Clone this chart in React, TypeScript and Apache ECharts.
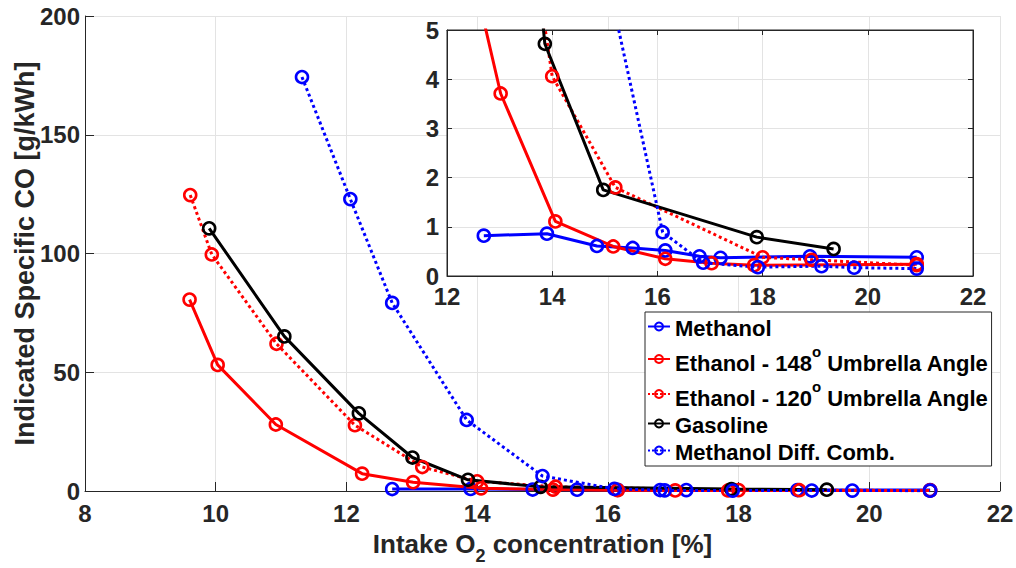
import React, { useEffect, useRef } from 'react';
import * as echarts from 'echarts';

const FONT = "'Liberation Sans', Arial, Helvetica, sans-serif";

const seriesNames = [
  'Methanol',
  'Ethanol - 148o Umbrella Angle',
  'Ethanol - 120o Umbrella Angle',
  'Gasoline',
  'Methanol Diff. Comb.',
];

const methanolX = [12.7, 13.9, 14.85, 15.53, 16.15, 16.8, 17.2, 18.9, 20.93];
const methanolY = [0.82, 0.86, 0.61, 0.57, 0.52, 0.4, 0.37, 0.4, 0.38];

const eth148X = [9.6, 10.03, 10.92, 12.24, 13.02, 14.06, 15.16, 16.15, 17.03, 17.84, 20.93];
const eth148Y = [80.6, 53.1, 28.0, 7.3, 3.71, 1.11, 0.6, 0.35, 0.26, 0.22, 0.24];

const eth120X = [9.61, 9.94, 10.93, 12.13, 13.16, 14.0, 15.2, 18.0, 18.93, 20.93];
const eth120Y = [124.6, 99.6, 62.0, 27.7, 10.1, 4.06, 1.8, 0.38, 0.33, 0.22];

const gasolineX = [9.9, 11.05, 12.19, 13.01, 13.86, 14.97, 17.89, 19.35];
const gasolineY = [110.6, 65.1, 32.7, 14.1, 4.72, 1.75, 0.79, 0.55];

const diffX = [11.32, 12.06, 12.7, 13.84, 15.0, 16.1, 16.87, 17.91, 19.12, 19.74, 20.93];
const diffY = [174.3, 122.9, 79.2, 29.9, 6.3, 0.89, 0.27, 0.18, 0.2, 0.17, 0.15];

const seriesX = [methanolX, eth148X, eth120X, gasolineX, diffX];
const seriesY = [methanolY, eth148Y, eth120Y, gasolineY, diffY];
const seriesColors = ['#0000ff', '#ff0000', '#ff0000', '#000000', '#0000ff'];
const seriesDotted = [false, false, true, false, true];

const legendLabels: Record<string, string> = {
  'Methanol': '{t|Methanol}',
  'Ethanol - 148o Umbrella Angle': '{t|Ethanol - 148}{sup|o}{t| Umbrella Angle}',
  'Ethanol - 120o Umbrella Angle': '{t|Ethanol - 120}{sup|o}{t| Umbrella Angle}',
  'Gasoline': '{t|Gasoline}',
  'Methanol Diff. Comb.': '{t|Methanol Diff. Comb.}',
};

const AXIS_COLOR = '#262626';
const GRID_COLOR = '#e3e3e3';

function makeSeries(i: number, inset: boolean) {
  const c = seriesColors[i];
  return {
    name: seriesNames[i],
    type: 'line',
    xAxisIndex: inset ? 1 : 0,
    yAxisIndex: inset ? 1 : 0,
    data: seriesX[i].map((x, k) => [x, seriesY[i][k]]),
    symbol: 'circle',
    symbolSize: 12,
    clip: true,
    silent: true,
    z: inset ? 6 : 2,
    lineStyle: { color: c, width: 3, type: seriesDotted[i] ? 'dotted' : 'solid' },
    itemStyle: { color: 'rgba(255,255,255,0)', borderColor: c, borderWidth: 2.6 },
    emphasis: { disabled: true },
  };
}

export default function App() {
  const ref = useRef<HTMLDivElement>(null);
  useEffect(() => {
    const chart = echarts.init(ref.current!, null, { renderer: 'svg' });
    const tickLabel = { color: AXIS_COLOR, fontSize: 24, fontWeight: 'bold', fontFamily: FONT };
    const option: any = {
      animation: false,
      backgroundColor: '#ffffff',
      grid: [
        { left: 85, right: 16, top: 16, bottom: 77, show: false, containLabel: false, outerBoundsMode: 'none' },
        {
          left: 447, right: 43, top: 30, bottom: 292, show: true, containLabel: false, outerBoundsMode: 'none',
          backgroundColor: '#ffffff', borderColor: AXIS_COLOR, borderWidth: 1, z: 3,
        },
      ],
      xAxis: [
        {
          type: 'value', gridIndex: 0, min: 8, max: 22, interval: 2,
          axisLine: { show: true, onZero: false, lineStyle: { color: AXIS_COLOR, width: 1 } },
          axisTick: { show: true, inside: true, length: 9, lineStyle: { color: AXIS_COLOR } },
          axisLabel: { ...tickLabel, margin: 10 },
          splitLine: { show: true, lineStyle: { color: GRID_COLOR, width: 1 } },
          name: '{t|Intake O}{sub|2}{t| concentration [%]}',
          nameLocation: 'middle',
          nameGap: 40,
          nameTextStyle: {
            rich: {
              t: { fontSize: 26, fontWeight: 'bold', fontFamily: FONT, color: AXIS_COLOR, lineHeight: 26, verticalAlign: 'top' },
              sub: { fontSize: 18, fontWeight: 'bold', fontFamily: FONT, color: AXIS_COLOR, lineHeight: 34, verticalAlign: 'bottom' },
            },
          },
        },
        {
          type: 'value', gridIndex: 1, min: 12, max: 22, interval: 2, z: 4,
          axisLine: { show: true, onZero: false, lineStyle: { color: AXIS_COLOR, width: 1 } },
          axisTick: { show: true, inside: true, length: 5, lineStyle: { color: AXIS_COLOR } },
          axisLabel: { ...tickLabel, margin: 12, lineHeight: 17 },
          splitLine: { show: true, lineStyle: { color: GRID_COLOR, width: 1 } },
        },
        {
          type: 'value', gridIndex: 1, min: 12, max: 22, interval: 2, z: 4, position: 'top',
          axisLine: { show: true, onZero: false, lineStyle: { color: AXIS_COLOR, width: 1 } },
          axisTick: { show: true, inside: true, length: 5, lineStyle: { color: AXIS_COLOR } },
          axisLabel: { show: false },
          splitLine: { show: false },
        },
      ],
      yAxis: [
        {
          type: 'value', gridIndex: 0, min: 0, max: 200, interval: 50,
          axisLine: { show: true, onZero: false, lineStyle: { color: AXIS_COLOR, width: 1 } },
          axisTick: { show: true, inside: true, length: 9, lineStyle: { color: AXIS_COLOR } },
          axisLabel: { ...tickLabel, margin: 5 },
          splitLine: { show: true, lineStyle: { color: GRID_COLOR, width: 1 } },
          name: 'Indicated Specific CO [g/kWh]',
          nameLocation: 'middle',
          nameGap: 47,
          nameMoveOverlap: false,
          nameTextStyle: { fontSize: 27, fontWeight: 'bold', fontFamily: FONT, color: AXIS_COLOR },
        },
        {
          type: 'value', gridIndex: 1, min: 0, max: 5, interval: 1, z: 4,
          axisLine: { show: true, onZero: false, lineStyle: { color: AXIS_COLOR, width: 1 } },
          axisTick: { show: true, inside: true, length: 5, lineStyle: { color: AXIS_COLOR } },
          axisLabel: { ...tickLabel, margin: 8, lineHeight: 17 },
          splitLine: { show: true, lineStyle: { color: GRID_COLOR, width: 1 } },
        },
        {
          type: 'value', gridIndex: 1, min: 0, max: 5, interval: 1, z: 4, position: 'right',
          axisLine: { show: true, onZero: false, lineStyle: { color: AXIS_COLOR, width: 1 } },
          axisTick: { show: true, inside: true, length: 5, lineStyle: { color: AXIS_COLOR } },
          axisLabel: { show: false },
          splitLine: { show: false },
        },
      ],
      legend: {
        data: seriesNames,
        orient: 'vertical',
        left: 645,
        top: 312,
        z: 10,
        padding: [5, 3, 3, 2],
        itemGap: 5,
        itemWidth: 22,
        itemHeight: 10,
        backgroundColor: '#ffffff',
        borderColor: AXIS_COLOR,
        borderWidth: 1,
        selectedMode: false,
        formatter: (name: string) => legendLabels[name] || name,
        textStyle: {
          color: '#000',
          rich: {
            t: { fontSize: 22, fontWeight: 'bold', fontFamily: FONT, color: '#000', lineHeight: 25, verticalAlign: 'bottom' },
            sup: { fontSize: 15, fontWeight: 'bold', fontFamily: FONT, color: '#000', lineHeight: 30, verticalAlign: 'top' },
          },
        },
      },
      series: [
        ...seriesNames.map((_, i) => makeSeries(i, false)),
        ...seriesNames.map((_, i) => makeSeries(i, true)),
      ],
    };
    chart.setOption(option);
    return () => chart.dispose();
  }, []);
  return (
    <div
      ref={ref}
      style={{ position: 'absolute', left: 0, top: 0, width: 1016, height: 568 }}
    />
  );
}
